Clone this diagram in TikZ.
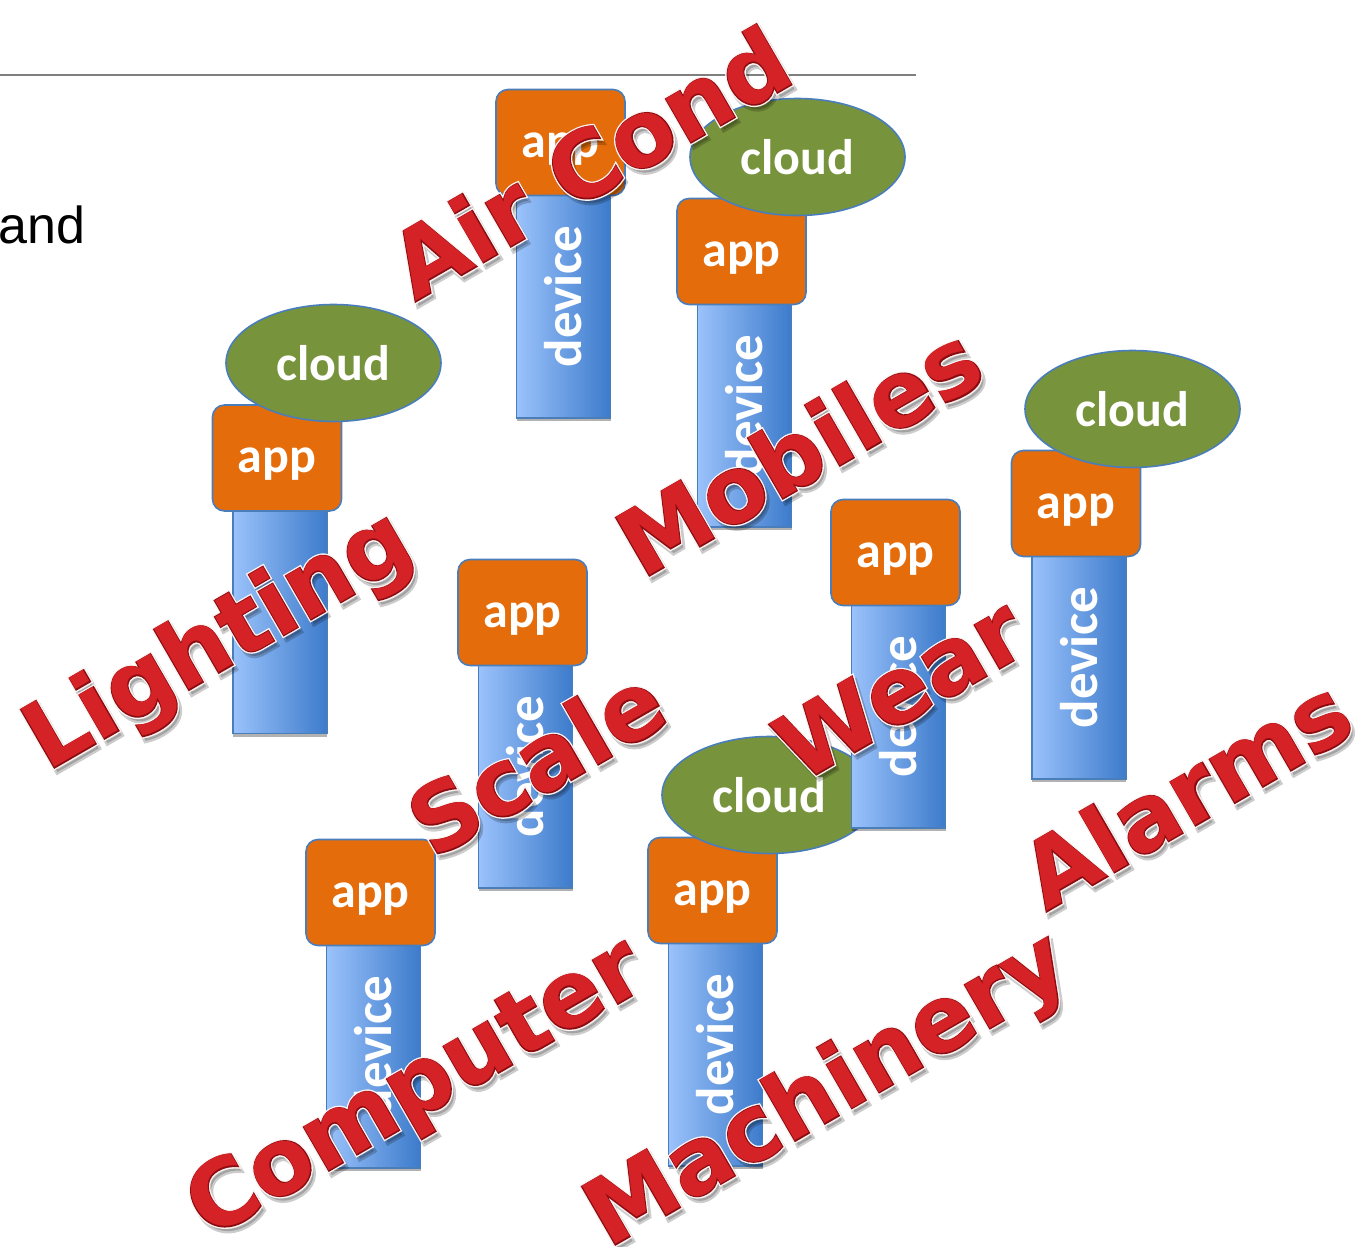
\documentclass[tikz,border=0pt]{standalone}
\usepackage{fontspec}
\setmainfont{Carlito}
\newfontfamily\labelfont{Carlito}
\newfontfamily\wordfont{DejaVu Sans}
\newfontfamily\wordhalofont{DejaVu Sans}[FakeBold=5]
\newfontfamily\wordrimfont{DejaVu Sans}[FakeBold=2]
\newfontfamily\bodyfont{Liberation Sans}
\usetikzlibrary{shapes.geometric,shadows}

\definecolor{appfill}{HTML}{E46C0A}
\definecolor{edgeblue}{HTML}{4A7EBB}
\definecolor{cloudfill}{HTML}{77933C}
\definecolor{devlight}{HTML}{9AC2FB}
\definecolor{devdark}{HTML}{3D7BCB}
\definecolor{wordred}{HTML}{D42226}
\definecolor{wordrim}{HTML}{8A0C10}
\definecolor{wordhalo}{HTML}{FDF3F3}
\definecolor{rulegray}{HTML}{7F7F7F}

\tikzset{
  appbox/.style={draw=edgeblue, line width=1.6pt, fill=appfill,
    rounded corners=12pt, minimum width=129pt, minimum height=106pt,
    inner sep=0pt, text=white,
    font=\labelfont\bfseries\fontsize{50}{60}\selectfont,
    text height=40pt, text depth=11pt},
  cloudnode/.style={ellipse, draw=edgeblue, line width=1.6pt, fill=cloudfill,
    minimum width=215pt, minimum height=117pt, inner sep=0pt, text=white,
    font=\labelfont\bfseries\fontsize{50}{60}\selectfont},
  devbox/.style={draw=edgeblue, line width=1.2pt,
    left color=devlight, right color=devdark,
    minimum width=94pt, minimum height=223pt, inner sep=0pt,
    drop shadow={shadow xshift=0pt, shadow yshift=-3pt, opacity=.3, fill=black}},
  devtext/.style={rotate=90, text=white, inner sep=0pt,
    font=\labelfont\bfseries\fontsize{53}{60}\selectfont},
  wordbase/.style={anchor=base west, rotate=30, inner sep=0pt},
  wordmain/.style={wordbase, text=wordred,
    font=\wordfont\bfseries\fontsize{92}{100}\selectfont},
  wordrimstyle/.style={wordbase, text=wordrim,
    font=\wordrimfont\bfseries\fontsize{92}{100}\selectfont},
  wordhalostyle/.style={wordbase, text=wordhalo,
    font=\wordhalofont\bfseries\fontsize{92}{100}\selectfont},
  wordshadow/.style={wordbase, text=black, opacity=.2,
    font=\wordhalofont\bfseries\fontsize{92}{100}\selectfont},
  rulestyle/.style={draw=rulegray, line width=1.6pt},
}

% one column: device, app box on top of it, optional device label
\newcommand{\devcol}[4]{% #1 name, #2 app centre x, #3 app centre y, #4 device label
  \node[devbox] (#1dev) at (#2+3, #3+164) {};
  \ifx\relax#4\relax\else
    \node[devtext] (#1devlabel) at ([yshift=10pt]#1dev.center) {#4};
  \fi
  \node[appbox] (#1app) at (#2, #3) {app};
}
\newcommand{\cloudat}[3]{% #1 name, #2 x, #3 y
  \node[cloudnode] (#1cloud) at (#2, #3) {cloud};
}
% embossed red caption: soft shadow, pale halo, dark rim, red face
\newcommand{\redword}[3]{% #1 name, #2 baseline start, #3 text
  \node[wordshadow] (#1shadow) at ([shift={(3,4.5)}]#2) {#3};
  \node[wordhalostyle] (#1halo) at (#2) {#3};
  \node[wordrimstyle] (#1rim) at (#2) {#3};
  \node[wordmain] (#1) at (#2) {#3};
}

\begin{document}
\begin{tikzpicture}[x=1pt, y=-1pt]
  \useasboundingbox (0,0) rectangle (1361,1247);
  \fill[white] (0,0) rectangle (1361,1247);

  % heading rule and trailing word of the slide text
  \coordinate (ruleL) at (0,75);
  \coordinate (ruleR) at (916,75);
  \draw[rulestyle] (ruleL) -- (ruleR);
  \node[anchor=base west, inner sep=0pt,
        font=\bodyfont\fontsize{52}{60}\selectfont] (andword) at (-2,243) {and};

  % stacks of device / app / cloud
  \devcol{light}{277}{458}{}
  \cloudat{light}{333.5}{363}

  \devcol{air}{560.5}{142.5}{device}

  \devcol{mob}{741.5}{251.5}{device}
  \cloudat{mob}{797.5}{157}

  \devcol{scale}{522.5}{612.5}{device}

  \devcol{mach}{712.5}{890.5}{device}
  \cloudat{mach}{769.5}{795}

  \devcol{wear}{895.5}{552.5}{device}

  \devcol{alarm}{1076}{503.5}{device}
  \cloudat{alarm}{1132.5}{409}

  \devcol{comp}{370.5}{892.5}{device}

  % rotated captions over everything
  \redword{wLighting}{47,772}{Lighting}
  \redword{wAirCond}{415,302}{Air Cond}
  \redword{wMobiles}{642,580}{Mobiles}
  \redword{wScale}{433,860}{Scale}
  \redword{wWear}{800,784}{Wear}
  \redword{wAlarms}{1046,912}{Alarms}
  \redword{wComputer}{209,1240}{Computer}
  \redword{wMachinery}{608,1249}{Machinery}
\end{tikzpicture}
\end{document}
